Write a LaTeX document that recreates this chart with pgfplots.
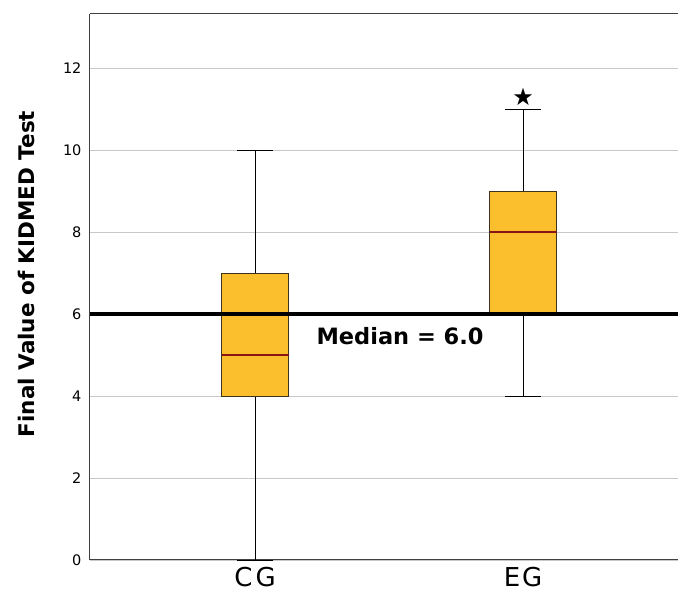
\documentclass[border=0pt]{standalone}
\usepackage{pgfplots}
\pgfplotsset{compat=1.18}
\usepgfplotslibrary{statistics}
\usetikzlibrary{plotmarks}
\usepackage{fontspec}
\setmainfont{DejaVu Sans}
\definecolor{boxfill}{RGB}{251,190,45}
\definecolor{boxedge}{RGB}{60,50,30}
\definecolor{medred}{RGB}{140,20,20}
\definecolor{gridgray}{RGB}{200,200,200}
\begin{document}
\begin{tikzpicture}[x=1pt,y=1pt]
\useasboundingbox (0,0) rectangle (678,594);
\begin{axis}[
  at={(90pt,34pt)}, anchor=south west,
  scale only axis, width=588pt, height=546pt,
  xmin=0.384, xmax=2.578, ymin=0, ymax=13.32,
  axis lines*=left,
  axis line style={draw=black!75, line width=1pt},
  xtick={1,2}, xticklabels={C\hspace{3pt}G, E\hspace{2pt}G},
  ytick={0,2,4,6,8,10,12},
  major tick length=0pt,
  ymajorgrids, grid style={gridgray, line width=0.8pt},
  yticklabel style={font=\fontsize{14.5}{15}\selectfont, xshift=-5pt},
  xticklabel style={font=\fontsize{26}{27}\selectfont, yshift=-4pt},
  /pgf/number format/assume math mode=true,
  ylabel={\bfseries Final Value of KIDMED Test},
  every axis y label/.style={at={(rel axis cs:0,0.5)}, xshift=-64pt, yshift=13pt, rotate=90, anchor=center, font=\fontsize{21.5}{22}\selectfont},
  boxplot/draw direction=y,
  boxplot/box extend=0.25,
  boxplot/whisker extend=0.135,
  boxplot/every box/.style={fill=boxfill, draw=boxedge, line width=0.9pt},
  boxplot/every whisker/.style={draw=black, line width=0.8pt},
  boxplot/every median/.style={draw=medred, line width=1.6pt},
  clip=false,
]
\addplot[boxplot prepared={draw position=2, lower whisker=4, lower quartile=6, median=8, upper quartile=9, upper whisker=11},
  mark=text, text mark={\fontsize{24}{24}\selectfont ★}, mark options={black}] coordinates {(0,11.3)};
\addplot[boxplot prepared={draw position=1, lower whisker=0, lower quartile=4, median=5, upper quartile=7, upper whisker=10}] coordinates {};
\addplot[black, line width=3.6pt] coordinates {(0.384,6) (2.578,6)};
\node[font=\fontsize{22.5}{23}\selectfont\bfseries] at (axis cs:1.541,5.46) {Median = 6.0};
\draw[black!75, line width=1pt] (rel axis cs:0,1) -- (rel axis cs:1,1);
\end{axis}
\end{tikzpicture}
\end{document}
